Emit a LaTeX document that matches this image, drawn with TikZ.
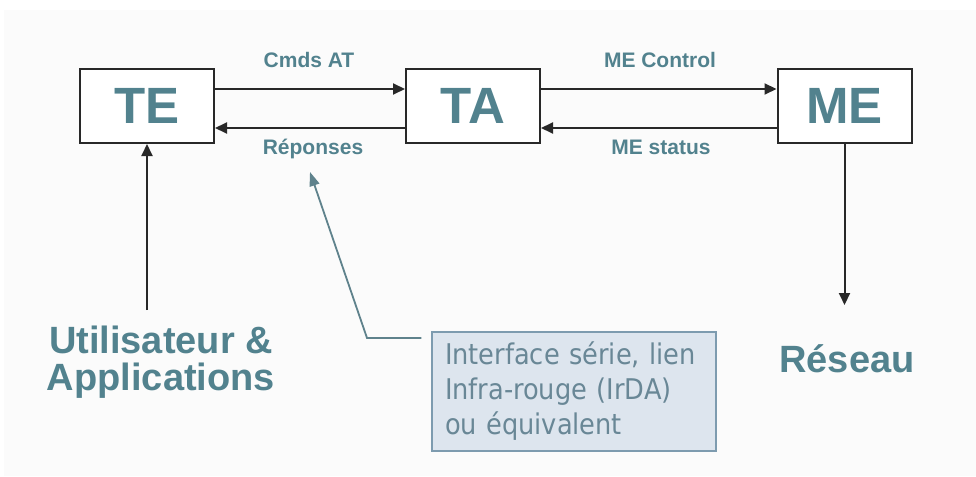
\documentclass[tikz,border=0pt]{standalone}
\usepackage{fontspec}
\setmainfont{Liberation Sans}
\newfontfamily\notefont{DejaVu Sans Condensed}
\usetikzlibrary{arrows.meta}
\definecolor{labelteal}{RGB}{82,130,142}
\definecolor{notetext}{RGB}{105,135,150}
\definecolor{notefill}{RGB}{221,229,238}
\definecolor{noteedge}{RGB}{125,155,175}
\definecolor{leader}{RGB}{95,130,140}
\definecolor{boxedge}{RGB}{40,40,40}
\definecolor{paper}{RGB}{251,251,251}
\tikzset{
  unitbox/.style={draw=boxedge, line width=2pt, fill=white, minimum width=134pt,
    minimum height=74pt, inner sep=0pt, text=labelteal,
    font=\fontsize{51}{51}\selectfont\bfseries},
  flowlabel/.style={text=labelteal, inner sep=0pt, anchor=base,
    font=\fontsize{21}{21}\selectfont\bfseries},
  biglabel/.style={text=labelteal, inner sep=0pt,
    font=\fontsize{38}{37}\selectfont\bfseries},
  flow/.style={draw=boxedge, line width=2pt, -{Triangle[length=12pt,width=11pt]}},
  notebox/.style={draw=noteedge, line width=1.5pt, fill=notefill, text=notetext,
    minimum width=284pt, minimum height=119pt, inner xsep=13pt, inner ysep=0pt,
    align=left, text width=258pt, font=\notefont\fontsize{28.5}{35}\selectfont},
  pointer/.style={draw=leader, line width=1.8pt, -{Triangle[length=14pt,width=10pt]}}
}
\begin{document}
\begin{tikzpicture}[x=1pt, y=-1pt]
  \useasboundingbox (0,0) rectangle (976,476);
  \fill[paper] (4,10) rectangle (976,476);

  % the three units
  \node[unitbox] (te) at (147,106) {TE};
  \node[unitbox] (ta) at (473,106) {TA};
  \node[unitbox] (me) at (844.5,106) {ME};

  % exchanges between units
  \draw[flow] ([yshift=17pt]te.east) -- ([yshift=17pt]ta.west);
  \draw[flow] ([yshift=-22pt]ta.west) -- ([yshift=-22pt]te.east);
  \draw[flow] ([yshift=17pt]ta.east) -- ([yshift=17pt]me.west);
  \draw[flow] ([yshift=-22pt]me.west) -- ([yshift=-22pt]ta.east);

  \node[flowlabel] (cmd) at (309,68) {Cmds AT};
  \node[flowlabel] (rep) at (313,154) {Réponses};
  \node[flowlabel] (ctl) at (660,68) {ME Control};
  \node[flowlabel] (sta) at (661,154) {ME status};

  % user side and network side
  \node[biglabel, align=center] (user) at (161,362) {Utilisateur \&\\Applications};
  \coordinate (userin) at (147,310);
  \draw[flow] (userin) -- (te.south);

  \node[biglabel] (net) at (847,359) {Réseau};
  \coordinate (netout) at (844.5,305);
  \draw[flow] (me.south) -- (netout);

  % note on the TE-TA link
  \node[notebox] (note) at (574,391.5) {Interface série, lien\\Infra-rouge (IrDA)\\ou équivalent};
  \coordinate (bend) at (367,338);
  \coordinate (tip) at (310,172);
  \draw[pointer] ([xshift=-10pt]note.west |- bend) -- (bend) -- (tip);
\end{tikzpicture}
\end{document}
